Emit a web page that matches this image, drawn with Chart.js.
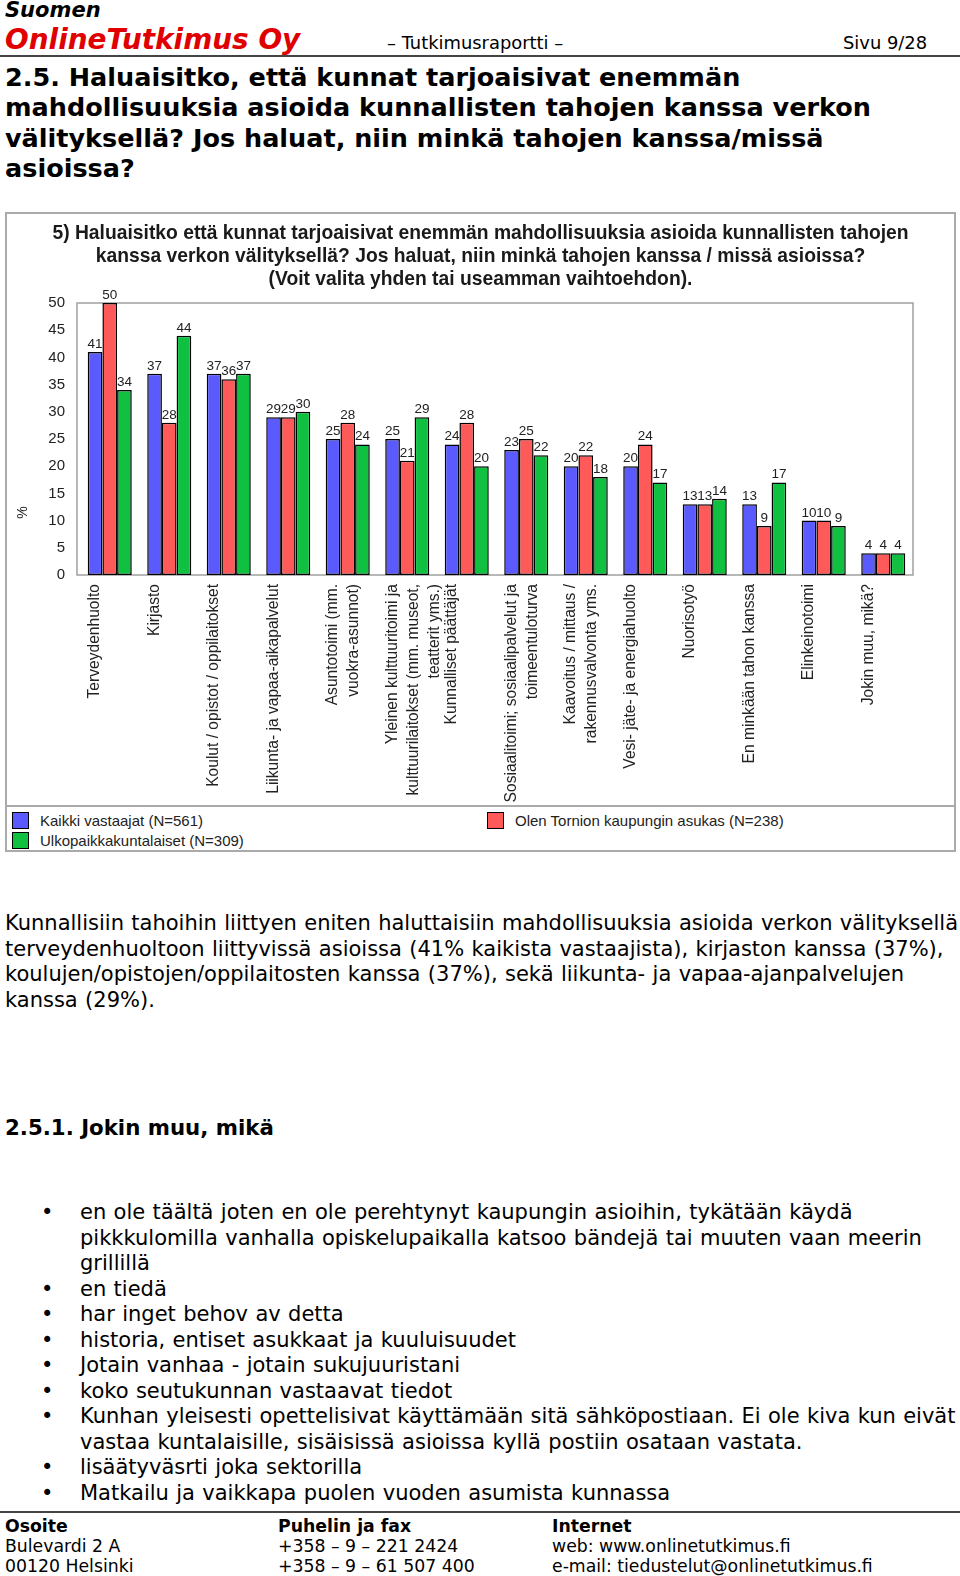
<!DOCTYPE html>
<html>
<head>
<meta charset="utf-8">
<script src="https://cdn.jsdelivr.net/npm/chart.js@4.4.1/dist/chart.umd.min.js"></script>
<style>
  html { overflow: hidden; }
  body { margin: 0; width: 960px; height: 1576px; position: relative; overflow: hidden;
         background: #fff; color: #000; font-family: "DejaVu Sans", Verdana, sans-serif; }
  .abs { position: absolute; white-space: nowrap; }
  .rule { position: absolute; left: 0; width: 960px; height: 2px; background: #444; }
  .h1 { left: 5px; top: 61.5px; font-size: 25.5px; font-weight: bold; line-height: 30.5px; }
  .para { left: 5px; top: 911px; font-size: 21px; line-height: 25.5px; word-spacing: 0.7px; }
  .bullets { left: 0; top: 1200px; font-size: 21px; line-height: 25.5px; word-spacing: 0.7px; }
  .bullets div { position: relative; padding-left: 80px; }
  .bullets div::before { content: "\2022"; position: absolute; left: 41px; }
  .foot { top: 1516px; font-size: 17.3px; line-height: 20px; }
  #box { position: absolute; left: 5px; top: 212px; width: 951px; height: 640px;
         box-sizing: border-box; border: 2px solid #aaa; }
  #wrap { position: absolute; left: 0; top: 0; width: 947px; height: 591px; }
  #legend { position: absolute; left: 0; top: 591px; width: 947px; height: 45px;
            border-top: 2px solid #aaa; font-family: "Liberation Sans", Arial, sans-serif;
            font-size: 15px; color: #222; }
  .item { position: absolute; height: 17px; line-height: 17px; white-space: nowrap; }
  .item span { position: absolute; left: 0; top: 0; width: 15px; height: 15px; border: 1px solid #000; }
  .item b { font-weight: normal; position: absolute; left: 28px; top: 0; }
</style>
</head>
<body>

<div class="abs" style="left:5px; top:-2px; font-size:21px; font-weight:bold; font-style:italic; line-height:24px;">Suomen</div>
<div class="abs" style="left:5px; top:24px; font-size:27.9px; font-weight:bold; font-style:italic; color:#e00000; line-height:32px;">OnlineTutkimus Oy</div>
<div class="abs" style="left:387px; top:32px; font-size:17.9px; line-height:22px;">– Tutkimusraportti –</div>
<div class="abs" style="left:843px; top:32px; font-size:17.9px; line-height:22px;">Sivu 9/28</div>
<div class="rule" style="top:55px;"></div>

<div class="abs h1">2.5. Haluaisitko, että kunnat tarjoaisivat enemmän<br>mahdollisuuksia asioida kunnallisten tahojen kanssa verkon<br>välityksellä? Jos haluat, niin minkä tahojen kanssa/missä<br>asioissa?</div>

<div id="box">
  <div id="wrap"><canvas id="chart"></canvas></div>
  <div id="legend"></div>
</div>

<div class="abs para">Kunnallisiin tahoihin liittyen eniten haluttaisiin mahdollisuuksia asioida verkon välityksellä<br>terveydenhuoltoon liittyvissä asioissa (41% kaikista vastaajista), kirjaston kanssa (37%),<br>koulujen/opistojen/oppilaitosten kanssa (37%), sekä liikunta- ja vapaa-ajanpalvelujen<br>kanssa (29%).</div>

<div class="abs" style="left:5px; top:1115px; font-size:21.3px; font-weight:bold; line-height:25.4px;">2.5.1. Jokin muu, mikä</div>

<div class="abs bullets">
  <div>en ole täältä joten en ole perehtynyt kaupungin asioihin, tykätään käydä<br>pikkkulomilla vanhalla opiskelupaikalla katsoo bändejä tai muuten vaan meerin<br>grillillä</div>
  <div>en tiedä</div>
  <div>har inget behov av detta</div>
  <div>historia, entiset asukkaat ja kuuluisuudet</div>
  <div>Jotain vanhaa - jotain sukujuuristani</div>
  <div>koko seutukunnan vastaavat tiedot</div>
  <div>Kunhan yleisesti opettelisivat käyttämään sitä sähköpostiaan. Ei ole kiva kun eivät<br>vastaa kuntalaisille, sisäisissä asioissa kyllä postiin osataan vastata.</div>
  <div>lisäätyväsrti joka sektorilla</div>
  <div>Matkailu ja vaikkapa puolen vuoden asumista kunnassa</div>
</div>

<div class="rule" style="top:1511px;"></div>
<div class="abs foot" style="left:5px;"><b>Osoite</b><br>Bulevardi 2 A<br>00120 Helsinki</div>
<div class="abs foot" style="left:278px;"><b>Puhelin ja fax</b><br>+358 – 9 – 221 2424<br>+358 – 9 – 61 507 400</div>
<div class="abs foot" style="left:552px;"><b>Internet</b><br>web: www.onlinetutkimus.fi<br>e-mail: tiedustelut@onlinetutkimus.fi</div>

<script>
const chartTitle = [
  "5) Haluaisitko että kunnat tarjoaisivat enemmän mahdollisuuksia asioida kunnallisten tahojen",
  "kanssa verkon välityksellä? Jos haluat, niin minkä tahojen kanssa / missä asioissa?",
  "(Voit valita yhden tai useamman vaihtoehdon)."
];

const categories = [
  "Terveydenhuolto",
  "Kirjasto",
  "Koulut / opistot / oppilaitokset",
  "Liikunta- ja vapaa-aikapalvelut",
  ["Asuntotoimi (mm.", "vuokra-asunnot)"],
  ["Yleinen kulttuuritoimi ja", "kulttuurilaitokset (mm. museot,", "teatterit yms.)"],
  "Kunnalliset päättäjät",
  ["Sosiaalitoimi; sosiaalipalvelut ja", "toimeentuloturva"],
  ["Kaavoitus / mittaus /", "rakennusvalvonta yms."],
  "Vesi- jäte- ja energiahuolto",
  "Nuorisotyö",
  "En minkään tahon kanssa",
  "Elinkeinotoimi",
  "Jokin muu, mikä?"
];

const seriesNames = [
  "Kaikki vastaajat (N=561)",
  "Olen Tornion kaupungin asukas (N=238)",
  "Ulkopaikkakuntalaiset (N=309)"
];
const seriesColors = ["#5a5aff", "#ff5a5a", "#10c040"];

const allResp   = [41, 37, 37, 29, 25, 25, 24, 23, 20, 20, 13, 13, 10, 4];
const tornio    = [50, 28, 36, 29, 28, 21, 28, 25, 22, 24, 13,  9, 10, 4];
const outsiders = [34, 44, 37, 30, 24, 29, 20, 22, 18, 17, 14, 17,  9, 4];

const yTicks = { min: 0, max: 50, step: 5 };
const yLabel = "%";

const FONT = '"Liberation Sans", Arial, sans-serif';

// numbers over bars, plot frame and the % label
const extras = {
  id: "extras",
  beforeDatasetsDraw(chart) {
    const ctx = chart.ctx, a = chart.chartArea;
    ctx.save();
    ctx.strokeStyle = "#a0a0a0";
    ctx.lineWidth = 1.5;
    ctx.strokeRect(a.left - 3, a.top, a.right - a.left + 3, a.bottom - a.top);
    ctx.restore();
  },
  afterDatasetsDraw(chart) {
    const ctx = chart.ctx;
    ctx.save();
    ctx.font = "13.5px " + FONT;
    ctx.fillStyle = "#222";
    ctx.textAlign = "center";
    ctx.textBaseline = "bottom";
    chart.data.datasets.forEach((ds, i) => {
      chart.getDatasetMeta(i).data.forEach((bar, j) => {
        ctx.fillText(ds.data[j], bar.x, bar.y - 1);
      });
    });
    const y = chart.scales.y;
    ctx.translate(16, y.getPixelForValue(11.5));
    ctx.rotate(-Math.PI / 2);
    ctx.textAlign = "center";
    ctx.textBaseline = "middle";
    ctx.font = "14px " + FONT;
    ctx.fillText(yLabel, 0, 0);
    ctx.restore();
  }
};

const values = [allResp, tornio, outsiders];

new Chart(document.getElementById("chart"), {
  type: "bar",
  data: {
    labels: categories,
    datasets: seriesNames.map((name, i) => ({
      label: name,
      data: values[i],
      backgroundColor: seriesColors[i],
      borderColor: "#000",
      borderWidth: 1.5,
      borderSkipped: false,
      categoryPercentage: 0.74,
      barPercentage: 1.0
    }))
  },
  options: {
    responsive: true,
    maintainAspectRatio: false,
    animation: false,
    layout: { padding: 0 },
    plugins: {
      legend: { display: false },
      tooltip: { enabled: false },
      title: {
        display: true,
        text: chartTitle,
        color: "#1a1a1a",
        font: { family: FONT, size: 19.3, weight: "bold", lineHeight: 23 / 19.3 },
        padding: { top: 8.5, bottom: 11.5 }
      }
    },
    scales: {
      x: {
        grid: { display: false },
        border: { display: false },
        ticks: {
          autoSkip: false, minRotation: 90, maxRotation: 90,
          padding: 1, labelOffset: -15,
          color: "#222", font: { family: FONT, size: 15.6, lineHeight: 21 / 15.6 }
        },
        afterFit(s) { s.height = 230; }
      },
      y: {
        min: yTicks.min, max: yTicks.max,
        grid: { display: false },
        border: { display: false },
        ticks: { stepSize: yTicks.step, padding: 7, color: "#222", font: { family: FONT, size: 15 } },
        afterFit(s) { s.width = 73; }
      },
      yRight: {
        position: "right",
        grid: { display: false },
        border: { display: false },
        ticks: { display: false },
        afterFit(s) { s.width = 41; }
      }
    }
  },
  plugins: [extras]
});

// legend in two columns, like the original
const legendPos = [[5, 5], [480, 5], [5, 25]];
const legend = document.getElementById("legend");
seriesNames.forEach((name, i) => {
  const d = document.createElement("div");
  d.className = "item";
  d.style.left = legendPos[i][0] + "px";
  d.style.top = legendPos[i][1] + "px";
  d.innerHTML = '<span style="background:' + seriesColors[i] + '"></span><b>' + name + "</b>";
  legend.appendChild(d);
});
</script>
</body>
</html>
